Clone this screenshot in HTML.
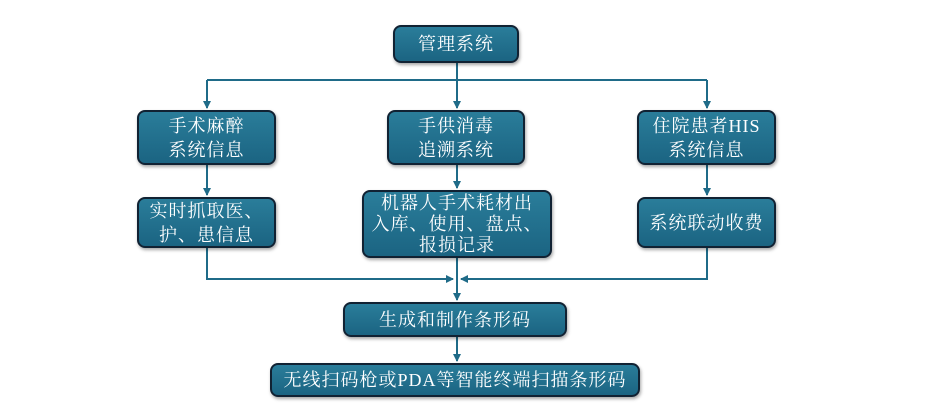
<!DOCTYPE html>
<html><head><meta charset="utf-8"><style>
body{margin:0;width:927px;height:417px;background:#fff;overflow:hidden;position:relative;font-family:"Liberation Serif","Noto Serif CJK SC",serif;}
.b{position:absolute;box-sizing:border-box;background:linear-gradient(#2a7d9a,#1b6482);border:2px solid #123;border-radius:8px;color:#fff;display:flex;align-items:center;justify-content:center;text-align:center;font-size:18px;line-height:24px;letter-spacing:1px;box-shadow:1px 2px 3px rgba(0,0,0,.35);}
svg{position:absolute;left:0;top:0}
</style></head><body>
<svg width="927" height="417"><defs><marker id="a" markerWidth="8" markerHeight="8" refX="7" refY="4" orient="auto" markerUnits="userSpaceOnUse"><path d="M0,0L8,4L0,8z" fill="#1f6b88"/></marker></defs>
<g stroke="#1f6b88" stroke-width="2" fill="none">
<path d="M457,63V108" marker-end="url(#a)"/>
<path d="M207,80H707"/>
<path d="M207,80V108" marker-end="url(#a)"/>
<path d="M707,80V108" marker-end="url(#a)"/>
<path d="M207,165V195" marker-end="url(#a)"/>
<path d="M457,165V188" marker-end="url(#a)"/>
<path d="M707,165V195" marker-end="url(#a)"/>
<path d="M207,248V279H453" marker-end="url(#a)"/>
<path d="M707,248V279H461" marker-end="url(#a)"/>
<path d="M457,258V300" marker-end="url(#a)"/>
<path d="M457,337V361" marker-end="url(#a)"/>
</g></svg>
<div class="b" style="left:393px;top:25px;width:126px;height:38px">管理系统</div>
<div class="b" style="left:137px;top:110px;width:139px;height:55px">手术麻醉<br>系统信息</div>
<div class="b" style="left:387px;top:110px;width:138px;height:55px">手供消毒<br>追溯系统</div>
<div class="b" style="left:637px;top:110px;width:139px;height:55px">住院患者HIS<br>系统信息</div>
<div class="b" style="left:137px;top:197px;width:139px;height:51px">实时抓取医、<br>护、患信息</div>
<div class="b" style="left:362px;top:190px;width:190px;height:68px;line-height:21px">机器人手术耗材出<br>入库、使用、盘点、<br>报损记录</div>
<div class="b" style="left:637px;top:197px;width:139px;height:51px">系统联动收费</div>
<div class="b" style="left:343px;top:302px;width:224px;height:35px">生成和制作条形码</div>
<div class="b" style="left:270px;top:363px;width:370px;height:34px">无线扫码枪或PDA等智能终端扫描条形码</div>
</body></html>
